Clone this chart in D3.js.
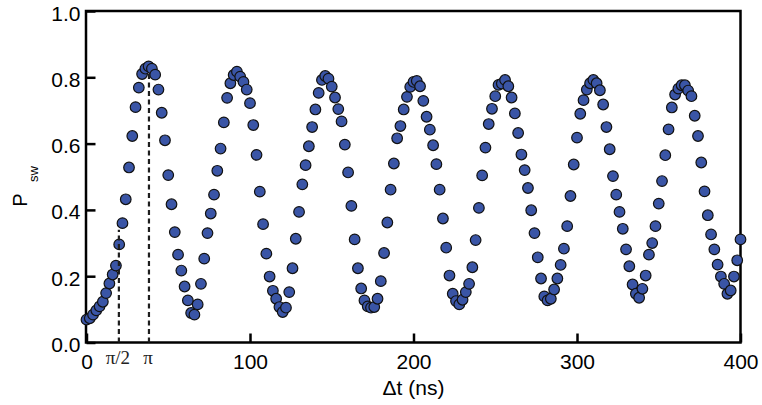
<!DOCTYPE html>
<html><head><meta charset="utf-8">
<script src="https://cdn.jsdelivr.net/npm/d3@7"></script>
<style>html,body{margin:0;padding:0;background:#fff;} svg{display:block;}</style>
</head><body><svg id="chart" width="762" height="405"></svg>
<script>
// ---- data ----
const timesNs = [
  0,2,4,6,8,10,12,14,16,18,
  20,22,24,26,28,30,32,34,36,38,
  40,42,44,46,48,50,52,54,56,58,
  60,62,64,66,68,70,72,74,76,78,
  80,82,84,86,88,90,92,94,96,98,
  100,102,104,106,108,110,112,114,116,118,
  120,122,124,126,128,130,132,134,136,138,
  140,142,144,146,148,150,152,154,156,158,
  160,162,164,166,168,170,172,174,176,178,
  180,182,184,186,188,190,192,194,196,198,
  200,202,204,206,208,210,212,214,216,218,
  220,222,224,226,228,230,232,234,236,238,
  240,242,244,246,248,250,252,254,256,258,
  260,262,264,266,268,270,272,274,276,278,
  280,282,284,286,288,290,292,294,296,298,
  300,302,304,306,308,310,312,314,316,318,
  320,322,324,326,328,330,332,334,336,338,
  340,342,344,346,348,350,352,354,356,358,
  360,362,364,366,368,370,372,374,376,378,
  380,382,384,386,388,390,392,394,396,398,
  400
];
const pSw = [
  0.069,0.073,0.084,0.097,0.109,0.123,0.149,0.178,0.205,0.232,
  0.296,0.360,0.432,0.528,0.623,0.710,0.769,0.810,0.826,0.833,
  0.826,0.808,0.763,0.693,0.610,0.505,0.417,0.333,0.265,0.217,
  0.169,0.127,0.089,0.084,0.115,0.177,0.253,0.330,0.389,0.446,
  0.518,0.585,0.664,0.738,0.782,0.807,0.817,0.802,0.786,0.763,
  0.722,0.656,0.566,0.455,0.357,0.268,0.199,0.156,0.132,0.107,
  0.092,0.105,0.152,0.224,0.313,0.394,0.477,0.535,0.592,0.650,
  0.703,0.753,0.792,0.804,0.796,0.772,0.739,0.704,0.667,0.597,
  0.513,0.412,0.311,0.224,0.163,0.127,0.109,0.105,0.107,0.132,
  0.185,0.270,0.362,0.461,0.540,0.616,0.653,0.703,0.741,0.771,
  0.786,0.789,0.773,0.729,0.681,0.642,0.595,0.538,0.461,0.374,
  0.286,0.202,0.147,0.125,0.115,0.129,0.152,0.177,0.227,0.309,
  0.406,0.504,0.588,0.659,0.705,0.743,0.777,0.781,0.792,0.773,
  0.739,0.691,0.632,0.567,0.520,0.466,0.399,0.330,0.257,0.193,
  0.139,0.127,0.132,0.160,0.193,0.234,0.283,0.351,0.442,0.537,
  0.618,0.690,0.731,0.763,0.782,0.792,0.782,0.761,0.718,0.650,
  0.583,0.502,0.446,0.394,0.343,0.281,0.230,0.175,0.147,0.135,
  0.162,0.202,0.265,0.300,0.351,0.419,0.487,0.565,0.643,0.709,
  0.748,0.766,0.776,0.776,0.760,0.743,0.684,0.623,0.543,0.456,
  0.384,0.326,0.281,0.235,0.199,0.177,0.147,0.157,0.199,0.248,
  0.311
];
const xTicks = [0, 100, 200, 300, 400];
const yTicks = [0, 0.2, 0.4, 0.6, 0.8, 1.0];
const markerTimes = [19.8, 38.2];
const markerLabels = ["\u03c0/2", "\u03c0"];
const markerTops = [0.34, 0.82];
const xTitle = "\u0394t (ns)";
const yTitleMain = "P";
const yTitleSub = "sw";

// ---- layout ----
const svg = d3.select("#chart");
svg.append("rect").attr("width", 762).attr("height", 405).attr("fill", "#fff");
const x = d3.scaleLinear().domain([0, 400]).range([86.5, 740.5]);
const y = d3.scaleLinear().domain([0, 1]).range([342.5, 11]);
const font = "'Liberation Sans', Arial, Helvetica, sans-serif";

// axes with inward ticks
const gx = svg.append("g").attr("transform", `translate(0,${y(0)})`)
  .call(d3.axisBottom(x).tickValues(xTicks).tickSize(-9).tickPadding(12).tickFormat(d3.format("d")));
const gy = svg.append("g").attr("transform", `translate(${x(0)},0)`)
  .call(d3.axisLeft(y).tickValues(yTicks).tickSize(-9).tickPadding(6).tickFormat(d3.format(".1f")));
[gx, gy].forEach(g => {
  g.select(".domain").remove();
  g.selectAll(".tick line").attr("stroke", "#000").attr("stroke-width", 2.5);
  g.selectAll(".tick text").attr("fill", "#000").style("font-family", font).style("font-size", "21px");
});
gy.selectAll(".tick text").attr("dy", "0.43em");
gx.selectAll(".tick text").attr("dy", "0.68em");

// frame
svg.append("rect")
  .attr("x", x(0) - 0.5).attr("y", y(1))
  .attr("width", x(400) - x(0) + 0.5).attr("height", y(0) - y(1))
  .attr("fill", "none").attr("stroke", "#000").attr("stroke-width", 2.5);

// points
const pts = timesNs.map((t, i) => ({t, p: pSw[i]}));
svg.append("g").selectAll("circle").data(pts).join("circle")
  .attr("cx", d => x(d.t)).attr("cy", d => y(d.p)).attr("r", 5.3)
  .attr("fill", "#3a55a6").attr("stroke", "#111").attr("stroke-width", 1.2);

// dashed marker lines (drawn over points)
const markers = markerTimes.map((t, i) => ({t, label: markerLabels[i], top: markerTops[i]}));
svg.append("g").selectAll("line").data(markers).join("line")
  .attr("x1", d => x(d.t)).attr("x2", d => x(d.t))
  .attr("y1", y(0)).attr("y2", d => y(d.top))
  .attr("stroke", "#1e1e1e").attr("stroke-width", 2.2).attr("stroke-dasharray", "5,3.5");
svg.append("g").selectAll("text").data(markers).join("text")
  .attr("x", d => x(d.t) - 1).attr("y", 364)
  .attr("text-anchor", "middle")
  .style("font-family", "'Liberation Serif', 'Times New Roman', serif").style("font-size", "19px")
  .attr("fill", "#222")
  .text(d => d.label);

// titles
svg.append("text").attr("x", x(200)).attr("y", 395).attr("text-anchor", "middle")
  .style("font-family", font).style("font-size", "21px").attr("fill", "#000").text(xTitle);
svg.append("text").attr("transform", "translate(27,200) rotate(-90)").attr("text-anchor", "middle")
  .style("font-family", font).style("font-size", "20px").attr("fill", "#000").text(yTitleMain);
svg.append("text").attr("transform", "translate(37.5,174) rotate(-90)").attr("text-anchor", "middle")
  .style("font-family", font).style("font-size", "13px").attr("fill", "#000").text(yTitleSub);
</script></body></html>
